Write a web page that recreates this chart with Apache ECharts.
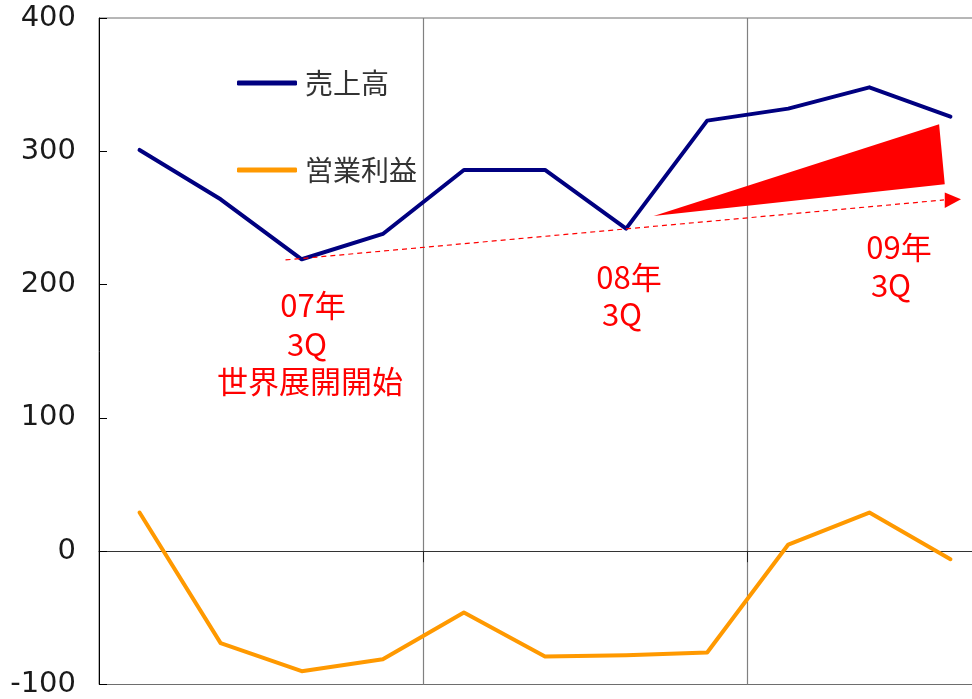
<!DOCTYPE html>
<html><head><meta charset="utf-8">
<script src="https://cdn.jsdelivr.net/npm/echarts@6/dist/echarts.min.js"></script>
<style>html,body{margin:0;padding:0;background:#fff;overflow:hidden;width:972px;height:699px}#c{width:991px;height:699px}</style>
</head><body><div id="c"></div>
<script>
// Quarters (07/1Q ... 09/3Q)
const categories = ['07/1Q','07/2Q','07/3Q','07/4Q','08/1Q','08/2Q','08/3Q','08/4Q','09/1Q','09/2Q','09/3Q'];
const sales = [301, 264, 219, 238, 286, 286, 242, 323, 332, 348, 326];
const operatingProfit = [29, -69, -90, -81, -46, -79, -78, -76, 5, 29, -6];
const yTicks = [-100, 0, 100, 200, 300, 400];
// Annotation shapes in data space (category index, value)
const trendLine = [[1.80, 218.5], [9.92, 263.5]];
const wedge = [6.34, 251.5, 9.86, 320.3, 9.93, 275.3];
const arrowHead = [9.93, 269.0, 9.93, 257.5, 10.13, 264.0];

const chart = echarts.init(document.getElementById('c'), null, {renderer: 'canvas'});
const jp = '"Noto Sans CJK JP", "Noto Sans", sans-serif';
const annotationTexts = [
  {t: '07年', x: 313, y: 305},
  {t: '3Q', x: 307, y: 344},
  {t: '世界展開開始', x: 310, y: 381},
  {t: '08年', x: 629, y: 277},
  {t: '3Q', x: 622, y: 314},
  {t: '09年', x: 899, y: 247},
  {t: '3Q', x: 891, y: 285}
];
const polyItem = (params, api) => ({
  type: 'polygon',
  shape: {points: [
    api.coord([api.value(0), api.value(1)]),
    api.coord([api.value(2), api.value(3)]),
    api.coord([api.value(4), api.value(5)])
  ]},
  style: {fill: '#FF0000'}
});
chart.setOption({
  animation: false,
  backgroundColor: '#fff',
  grid: {left: 99, top: 18, right: 0, bottom: 14, show: true, borderColor: '#6e6e6e', borderWidth: 1, containLabel: false},
  legend: {
    data: ['売上高', '営業利益'],
    orient: 'vertical', left: 237, top: 69, padding: 0,
    icon: 'roundRect', itemWidth: 60, itemHeight: 5, itemGap: 59,
    textStyle: {fontFamily: jp, fontSize: 28, color: '#333', lineHeight: 28, padding: [0, 0, 0, 3]}
  },
  xAxis: [{
    type: 'category', data: categories, boundaryGap: true,
    axisLine: {onZero: true, lineStyle: {color: '#333', width: 1}},
    axisTick: {show: true, interval: (i) => i === 4 || i === 8, length: 11, lineStyle: {color: '#222'}},
    axisLabel: {show: false},
    splitLine: {show: true, interval: (i) => i === 4 || i === 8, lineStyle: {color: '#808080', width: 1.2}}
  }, {
    type: 'value', min: -0.5, max: 10.5, show: false
  }],
  yAxis: {
    type: 'value', min: -100, max: 400, interval: 100,
    axisLine: {show: true, onZero: false, lineStyle: {color: '#000', width: 1}},
    axisTick: {show: true, inside: true, length: 8, lineStyle: {color: '#000'}},
    axisLabel: {fontFamily: 'DejaVu Sans', fontSize: 29, color: '#1a1a1a', margin: 23,
      customValues: yTicks},
    splitLine: {show: false}
  },
  series: [
    {name: '売上高', type: 'line', data: sales, symbol: 'none', z: 3,
      lineStyle: {color: '#000080', width: 4, cap: 'round', join: 'round'}, itemStyle: {color: '#000080'}},
    {name: '営業利益', type: 'line', data: operatingProfit, symbol: 'none', z: 3,
      lineStyle: {color: '#FF9900', width: 4, cap: 'round', join: 'round'}, itemStyle: {color: '#FF9900'}},
    {name: 'trend', type: 'line', xAxisIndex: 1, data: trendLine, symbol: 'none', silent: true, z: 4,
      lineStyle: {color: '#FF0000', width: 1.2, type: [5, 4]}},
    {name: 'wedge', type: 'custom', xAxisIndex: 1, silent: true, z: 4,
      encode: {x: [0, 2, 4], y: [1, 3, 5]}, data: [wedge, arrowHead], renderItem: polyItem}
  ],
  graphic: annotationTexts.map(a => ({
    type: 'text', x: a.x, y: a.y, silent: true, z: 10,
    style: {text: a.t, fill: '#FF0000', font: '31px ' + jp, textAlign: 'center', textVerticalAlign: 'middle'}
  }))
});
</script></body></html>
